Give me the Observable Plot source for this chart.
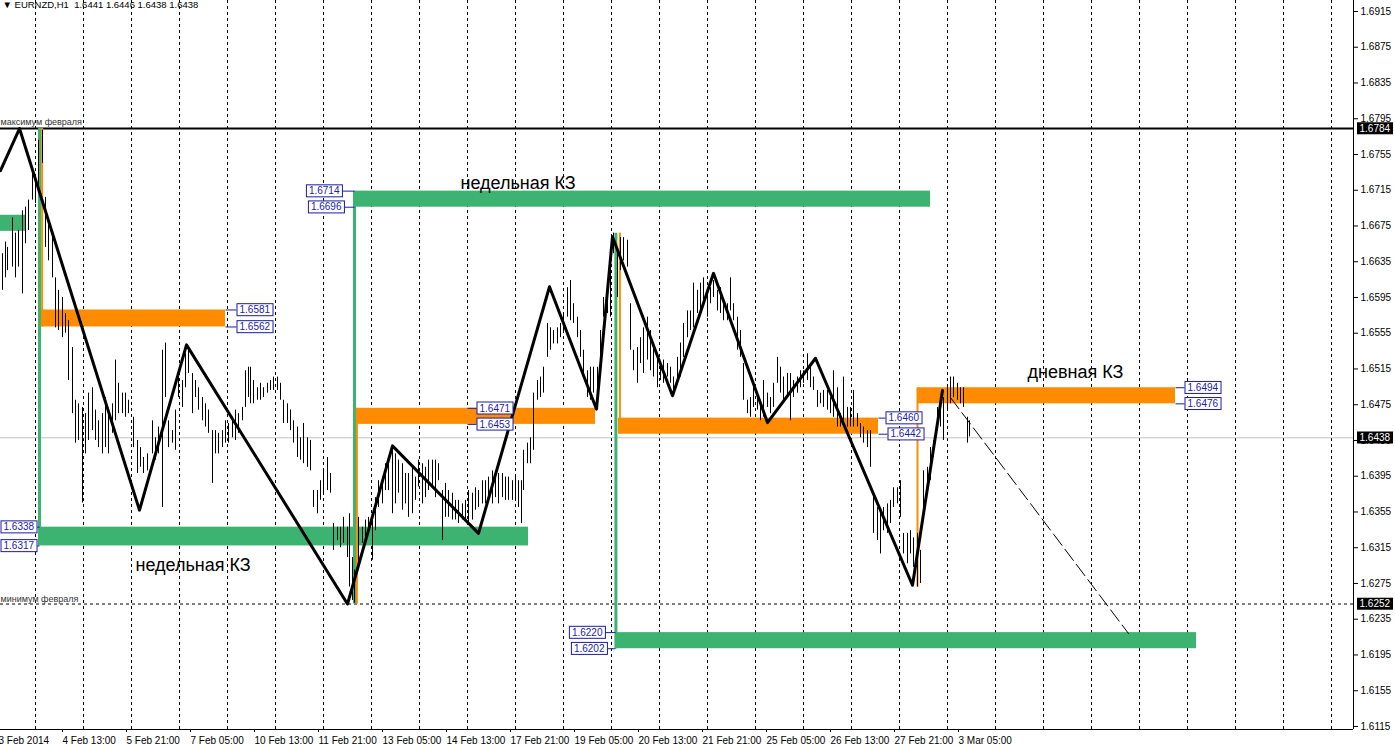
<!DOCTYPE html>
<html><head><meta charset="utf-8">
<script src="https://cdn.jsdelivr.net/npm/d3@7"></script>
<script src="https://cdn.jsdelivr.net/npm/@observablehq/plot@0.6"></script>
<style>
body{margin:0;background:#fff;}
#chart{width:1395px;height:746px;overflow:hidden;}
</style></head><body><div id="chart"></div>
<script>
// ---- data (bar index = hours since 3 Feb 05:00, trading hours only; price) ----
const header = "\u25BC EURNZD,H1\u00a0\u00a01.6441 1.6446 1.6438 1.6438";

const barT = [3.5,5,6,8.5,10,11.5,13.5,15,16.5,18.5,20,21.5,23.5,25,26.5,28.5,30,31.5,33.5,35,36.5,38.5,40,41.5,43.5,45,46.5,48.5,50,51.5,53.5,55,56.5,58.5,60,61.5,63.5,65,66.5,69,71,72.5,74,76,78.5,80,81.5,83.5,85,86.5,88.5,90,91.5,93.5,95,96.5,98.5,100,101.5,103.5,105,106.5,108.5,110,111.5,113.5,115,116.5,118.5,120,121.5,123.5,125,126.5,
127.5,129,131,132.5,134,136,137.5,139,141,142.5,144,146,147.5,149,151,152.5,154,156,157.5,159,161,162.5,164,166,167.5,169,171,172.5,174,176,177,178.5,179.5,181.5,183.5,185,186.5,188.5,190,191.5,193.5,195,196.5,198.5,200,201.5,203.5,205,206.5,208.5,210,211.5,213.5,215,216.5,218.5,220,221.5,223.5,225,226.5,228.5,230,231.5,233.5,235,236.5,238.5,240,241.5,243.5,245,246.5,248.5,
250,251.5,253.5,255,256.5,258.5,260,261.5,263,264,266,267.5,269,271,272.5,274,276,277.5,279,281,282.5,284,286,287.5,289,291,292.5,294,296,297.5,299,301,302.5,304,306,307.5,309,311,312.5,314,316,317.5,319,321,322.5,324,326,327.5,329,331,332.5,334,336,337.5,339,341,342.5,344,346,347.5,349,351,352.5,354,356,357.5,359,361,362.5,364,366,367.5,369,371,
372.5,374,376,377.5,379,381,382.5,384,386,387.5,389,391,392.5,394,396,397.5,399,401,402.5,404,406,407.5,409,411,412.5,414,416,417.5,419,421,422.5,424,426,427.5,429,431,432.5,434,436,437.5,439,441,442.5,444,446,447.5,449,451,452.5,454,456,457.5,459,461,462.5,464,466,467.5,469,471,472.5,474,476,477.5,479,481,482.5,484,486,487];
const barHigh = [1.6644,1.6657,1.6651,1.6684,1.6667,1.6670,1.6692,1.6696,1.6704,1.6734,1.6726,1.6771,1.6782,1.6707,1.6681,1.6670,1.6617,1.6603,1.6595,1.6577,1.6569,1.6539,1.6480,1.6476,1.6472,1.6465,1.6488,1.6494,1.6469,1.6457,1.6465,1.6483,1.6469,1.6476,1.6525,1.6499,1.6488,1.6488,1.6480,1.6461,1.6435,1.6427,1.6416,1.6420,1.6457,1.6438,1.6450,1.6536,1.6544,1.6457,1.6446,1.6469,1.6513,1.6502,1.6532,1.6539,1.6510,1.6502,1.6494,1.6483,1.6476,1.6469,1.6446,1.6446,1.6443,1.6446,1.6457,1.6454,1.6461,1.6469,1.6465,1.6472,1.6513,1.6517,
1.6517,1.6502,1.6494,1.6499,1.6494,1.6499,1.6502,1.6506,1.6506,1.6499,1.6480,1.6476,1.6469,1.6457,1.6450,1.6438,1.6454,1.6438,1.6435,1.6379,1.6379,1.6390,1.6401,1.6416,1.6398,1.6342,1.6338,1.6338,1.6349,1.6338,1.6353,1.6304,1.6290,1.6349,1.6338,1.6346,1.6349,1.6349,1.6371,1.6390,1.6394,1.6409,1.6416,1.6427,1.6420,1.6413,1.6409,1.6398,1.6398,1.6405,1.6394,1.6413,1.6409,1.6405,1.6413,1.6413,1.6413,1.6409,1.6379,1.6387,1.6379,1.6376,1.6368,1.6368,1.6364,1.6368,1.6379,1.6376,1.6382,1.6379,1.6390,1.6390,1.6394,1.6401,
1.6394,1.6398,1.6398,1.6394,1.6394,1.6390,1.6394,1.6390,1.6390,1.6424,1.6432,1.6438,1.6488,1.6502,1.6506,1.6517,1.6566,1.6561,1.6558,1.6561,1.6566,1.6577,1.6606,1.6614,1.6588,1.6573,1.6558,1.6536,1.6513,1.6517,1.6517,1.6517,1.6558,1.6595,1.6603,1.6636,1.6667,1.6651,1.6662,1.6662,1.6659,1.6588,1.6536,1.6539,1.6550,1.6561,1.6573,1.6558,1.6539,1.6528,1.6521,1.6525,1.6521,1.6517,1.6506,1.6528,1.6544,1.6566,1.6580,1.6580,1.6611,1.6603,1.6611,1.6617,1.6603,1.6606,1.6614,1.6603,1.6606,1.6592,1.6588,1.6617,1.6588,1.6573,
1.6558,1.6521,1.6480,1.6483,1.6494,1.6488,1.6480,1.6502,1.6488,1.6483,1.6499,1.6528,1.6517,1.6506,1.6510,1.6510,1.6502,1.6506,1.6513,1.6513,1.6532,1.6517,1.6506,1.6491,1.6488,1.6491,1.6491,1.6483,1.6513,1.6494,1.6465,1.6506,1.6472,1.6472,1.6491,1.6465,1.6454,1.6450,1.6446,1.6446,1.6376,1.6360,1.6357,1.6360,1.6364,1.6368,1.6382,1.6382,1.6390,1.6331,1.6331,1.6334,1.6326,1.6331,1.6312,1.6401,1.6405,1.6427,1.6435,1.6472,1.6469,1.6483,1.6494,1.6506,1.6506,1.6499,1.6494,1.6494,1.6461,1.6457];
const barLow = [1.6603,1.6617,1.6625,1.6629,1.6617,1.6629,1.6599,1.6655,1.6670,1.6704,1.6700,1.6718,1.6745,1.6651,1.6636,1.6617,1.6561,1.6558,1.6550,1.6555,1.6502,1.6465,1.6432,1.6435,1.6365,1.6420,1.6435,1.6446,1.6435,1.6427,1.6420,1.6427,1.6420,1.6443,1.6457,1.6465,1.6465,1.6461,1.6465,1.6427,1.6398,1.6405,1.6398,1.6401,1.6420,1.6413,1.6420,1.6360,1.6483,1.6427,1.6432,1.6424,1.6483,1.6472,1.6494,1.6510,1.6465,1.6483,1.6469,1.6457,1.6450,1.6443,1.6387,1.6420,1.6420,1.6427,1.6432,1.6432,1.6438,1.6435,1.6443,1.6457,1.6472,1.6483,
1.6476,1.6476,1.6480,1.6480,1.6483,1.6488,1.6491,1.6491,1.6491,1.6480,1.6454,1.6454,1.6446,1.6432,1.6416,1.6413,1.6409,1.6405,1.6401,1.6360,1.6353,1.6368,1.6376,1.6379,1.6376,1.6312,1.6323,1.6315,1.6320,1.6304,1.6271,1.6256,1.6253,1.6297,1.6320,1.6327,1.6331,1.6301,1.6334,1.6360,1.6364,1.6379,1.6379,1.6353,1.6364,1.6376,1.6357,1.6364,1.6349,1.6353,1.6368,1.6383,1.6364,1.6371,1.6379,1.6383,1.6371,1.6390,1.6323,1.6349,1.6349,1.6346,1.6346,1.6342,1.6346,1.6346,1.6342,1.6346,1.6357,1.6360,1.6364,1.6364,1.6371,1.6364,
1.6371,1.6364,1.6371,1.6368,1.6368,1.6368,1.6368,1.6360,1.6342,1.6379,1.6409,1.6409,1.6424,1.6480,1.6483,1.6488,1.6528,1.6536,1.6543,1.6543,1.6550,1.6555,1.6573,1.6569,1.6566,1.6550,1.6528,1.6506,1.6483,1.6480,1.6488,1.6494,1.6525,1.6573,1.6577,1.6573,1.6644,1.6595,1.6625,1.6636,1.6629,1.6536,1.6513,1.6499,1.6521,1.6510,1.6525,1.6513,1.6506,1.6494,1.6502,1.6499,1.6506,1.6499,1.6488,1.6499,1.6506,1.6528,1.6550,1.6558,1.6561,1.6577,1.6580,1.6588,1.6573,1.6588,1.6595,1.6580,1.6577,1.6569,1.6569,1.6580,1.6569,1.6536,
1.6528,1.6480,1.6465,1.6461,1.6472,1.6469,1.6457,1.6461,1.6472,1.6465,1.6472,1.6499,1.6488,1.6480,1.6483,1.6457,1.6483,1.6488,1.6494,1.6499,1.6502,1.6494,1.6491,1.6472,1.6476,1.6472,1.6469,1.6465,1.6461,1.6450,1.6450,1.6457,1.6450,1.6450,1.6450,1.6450,1.6438,1.6432,1.6427,1.6405,1.6331,1.6323,1.6308,1.6334,1.6331,1.6342,1.6360,1.6364,1.6349,1.6308,1.6297,1.6308,1.6293,1.6271,1.6275,1.6346,1.6382,1.6390,1.6416,1.6457,1.6450,1.6435,1.6469,1.6476,1.6483,1.6480,1.6476,1.6472,1.6432,1.6439];

// zigzag
const zigT = [2.5,12,72,95.5,176,198.5,241.5,277,300.5,308.5,338.5,359,386,410,458.5,473.5];
const zigP = [1.6737,1.6784,1.6357,1.6542,1.6252,1.6429,1.6331,1.6607,1.6470,1.6663,1.6485,1.6622,1.6455,1.6527,1.6273,1.6491];
// projection line
const projT = [477.5,566.5];
const projP = [1.6483,1.6219];

// zones (КЗ)
const zoneKind  = ["g","o","g","g","o","o","g","o"];
const zoneStart = [0,23,23,180,180,311.5,310,461.5];
const zoneEnd   = [15,115,266.5,467.5,300,441.5,600.5,590];
const zoneTop   = [1.6687,1.6581,1.6338,1.6714,1.6471,1.6460,1.6220,1.6494];
const zoneBot   = [1.6669,1.6562,1.6317,1.6696,1.6453,1.6442,1.6202,1.6476];

// vertical anchor lines
const vKind = ["g","o","g","o","g","o","o"];
const vT    = [22,23.3,179.5,180.7,310.2,312.2,461];
const vTop  = [1.6784,1.6784,1.6714,1.6471,1.6667,1.6667,1.6494];
const vBot  = [1.6317,1.6562,1.6252,1.6252,1.6202,1.6442,1.6271];

// price labels
const lblText  = ["1.6581","1.6562","1.6338","1.6317","1.6714","1.6696","1.6471","1.6453","1.6220","1.6202","1.6460","1.6442","1.6494","1.6476"];
const lblT     = [120.5,120.5,20.8,20.8,173.5,174.5,240.5,240.5,305,306,445,446,594.5,594.5];
const lblSide  = ["start","start","end","end","end","end","start","start","end","end","start","start","start","start"];
const lblFrom  = [115,115,22,22,179.5,179.5,236,236,310,310,441.5,441.5,590,590];

// levels
const febMax = 1.6784, febMin = 1.6252, lastPrice = 1.6438;
const tagPrices = [1.6784,1.6438,1.6252];

// annotations
const noteText = ["недельная КЗ","недельная КЗ","дневная КЗ"];
const noteT = [70,232.5,516];
const noteP = [1.6295,1.6723,1.6511];

// axes
const yTicks = [1.6115,1.6155,1.6195,1.6235,1.6275,1.6315,1.6355,1.6395,1.6435,1.6475,1.6515,1.6555,1.6595,1.6635,1.6675,1.6715,1.6755,1.6795,1.6835,1.6875,1.6915];
const xTickT = [1,33,65,97,129,161,193,225,257,289,321,353,385,417,449,481];
const xTickLabels = ["3 Feb 2014","4 Feb 13:00","5 Feb 21:00","7 Feb 05:00","10 Feb 13:00","11 Feb 21:00","13 Feb 05:00","14 Feb 13:00","17 Feb 21:00","19 Feb 05:00","20 Feb 13:00","21 Feb 21:00","25 Feb 05:00","26 Feb 13:00","27 Feb 21:00","3 Mar 05:00"];
const gridT = [20,44,68,92,116,140,164,188,212,236,260,284,308,332,356,380,404,428,452,476,500,524,548,572,596,620,644,668];

// ---- build tables ----
const bars = barT.map((t,i)=>({t, hi:barHigh[i], lo:barLow[i]}));
const zig = zigT.map((t,i)=>({t, p:zigP[i]}));
const proj = projT.map((t,i)=>({t, p:projP[i]}));
const zones = zoneKind.map((k,i)=>({k, x1:zoneStart[i], x2:zoneEnd[i], y1:zoneBot[i], y2:zoneTop[i]}));
const vlines = vKind.map((k,i)=>({k, t:vT[i], y1:vBot[i], y2:vTop[i]}));
const labels = lblText.map((s,i)=>({s, p:+s, t:lblT[i], side:lblSide[i], from:lblFrom[i]}));
const notes = noteText.map((s,i)=>({s, t:noteT[i], p:noteP[i]}));
const colorOf = {g:"#3cb371", o:"#ff8c00"};
const xFmt = new Map(xTickT.map((t,i)=>[t, xTickLabels[i]]));
const LBL = "#1b1ba8";
const TAG = "#fffffe";
const font = "Liberation Sans, Arial, sans-serif";

const svg = Plot.plot({
  width: 1395, height: 746,
  marginLeft: 0, marginRight: 42, marginTop: 0, marginBottom: 17,
  x: {domain: [2.5, 679], axis: null},
  y: {domain: [1.61116, 1.69273], axis: null},
  style: {fontFamily: font, fontSize: "10px", background: "#fff", color: "#000"},
  marks: [
    Plot.ruleX(gridT, {stroke: "#000", strokeDasharray: "3,3", strokeWidth: 1}),
    Plot.ruleY([lastPrice], {stroke: "#c0c0c0", strokeWidth: 1}),
    Plot.ruleY([febMin], {stroke: "#000", strokeDasharray: "3,3", strokeWidth: 1}),
    Plot.ruleY([febMax], {stroke: "#000", strokeWidth: 2}),
    Plot.rect(zones, {x1: "x1", x2: "x2", y1: "y1", y2: "y2", fill: d => colorOf[d.k], clip: true}),
    Plot.ruleX(vlines, {x: "t", y1: "y1", y2: "y2", stroke: d => colorOf[d.k], strokeWidth: d => d.k === "g" ? 3 : 2}),
    Plot.ruleX(bars, {x: "t", y1: "lo", y2: "hi", stroke: "#000", strokeWidth: 1}),
    Plot.line(zig, {x: "t", y: "p", stroke: "#000", strokeWidth: 3, clip: true}),
    Plot.line(proj, {x: "t", y: "p", stroke: "#000", strokeWidth: 1, strokeDasharray: "14,5"}),
    Plot.link(labels, {x1: "from", x2: "t", y1: "p", y2: "p", stroke: LBL, strokeWidth: 1}),
    Plot.text(labels.filter(d => d.side === "start"), {x: "t", y: "p", text: "s", textAnchor: "start", dx: 3, fill: LBL, fontSize: 10}),
    Plot.text(labels.filter(d => d.side === "end"), {x: "t", y: "p", text: "s", textAnchor: "end", dx: -3, fill: LBL, fontSize: 10}),
    Plot.text(notes, {x: "t", y: "p", text: "s", textAnchor: "start", fontSize: 18, fill: "#000"}),
    Plot.text([febMax], {x: 2.5, y: d => d, text: ["максимум февраля"], textAnchor: "start", dy: -6, fontSize: 9, fill: "#333"}),
    Plot.text([febMin], {x: 2.5, y: d => d, text: ["минимум февраля"], textAnchor: "start", dy: -5, fontSize: 9, fill: "#333"}),
    Plot.text([header], {frameAnchor: "top-left", text: d => d, dx: 2, dy: 1, fontSize: 9.5, fill: "#000"}),
    Plot.axisY({anchor: "right", ticks: yTicks, tickFormat: d => d.toFixed(4), tickSize: 4, tickPadding: 3, fontSize: 10, stroke: "#000"}),
    Plot.ruleX([679], {stroke: "#000", strokeWidth: 1}),
    Plot.ruleY([1.61116], {stroke: "#000", strokeWidth: 1}),
    Plot.axisX({ticks: xTickT, tickFormat: d => xFmt.get(d), textAnchor: "start", tickSize: 3, tickPadding: 4, dx: 1, fontSize: 10, stroke: "#000"}),
    Plot.text(tagPrices, {x: 679, y: d => d, text: d => d.toFixed(4), textAnchor: "start", dx: 6, fill: TAG, fontSize: 10})
  ]
});
document.getElementById("chart").appendChild(svg);

function boxify(fillSel, fill, stroke) {
  svg.querySelectorAll(`g[fill="${fillSel}"] text`).forEach(t => {
    const b = t.getBBox();
    const r = document.createElementNS("http://www.w3.org/2000/svg", "rect");
    r.setAttribute("x", b.x - 2.5);
    r.setAttribute("y", b.y - 0.5);
    r.setAttribute("width", b.width + 5);
    r.setAttribute("height", b.height + 1);
    r.setAttribute("fill", fill);
    if (stroke) { r.setAttribute("stroke", stroke); r.setAttribute("stroke-width", 1); }
    const tr = t.getAttribute("transform");
    if (tr) r.setAttribute("transform", tr);
    t.parentNode.insertBefore(r, t);
  });
}
boxify(LBL, "#fff", LBL);
boxify(TAG, "#000", null);
</script></body></html>
